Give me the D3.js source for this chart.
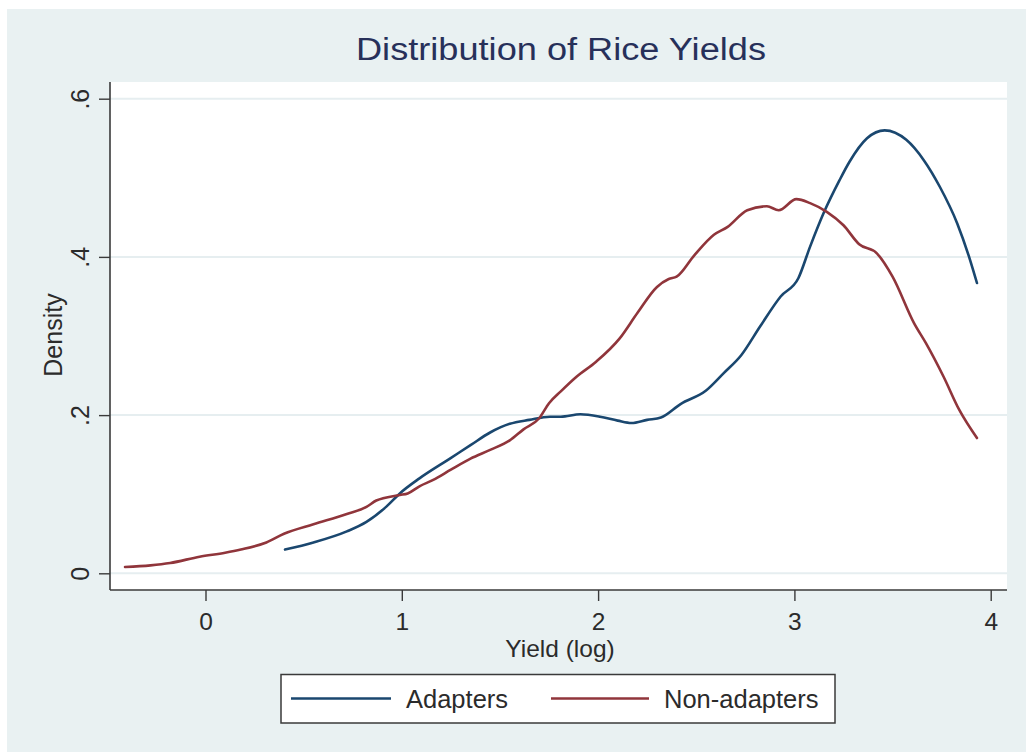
<!DOCTYPE html>
<html>
<head>
<meta charset="utf-8">
<script src="https://cdn.jsdelivr.net/npm/d3@7"></script>
<style>
  html, body { margin: 0; padding: 0; background: #ffffff; }
  svg { display: block; }
  text { font-family: "Liberation Sans", Arial, Helvetica, sans-serif; }
</style>
</head>
<body>
<svg id="chart" width="1026" height="752"></svg>
<script>
// Kernel density of log rice yield, by adoption status
const adaptersYield = [0.405, 0.55, 0.72, 0.82, 0.92, 0.99, 1.09, 1.245, 1.35, 1.45, 1.55, 1.65, 1.755, 1.81, 1.91, 2.01, 2.10, 2.17, 2.25, 2.32, 2.42, 2.55, 2.64, 2.73, 2.825, 2.93, 3.02, 3.08, 3.15, 3.23, 3.28, 3.37, 3.46, 3.57, 3.66, 3.74, 3.83, 3.895, 3.93];
const adaptersDensity = [0.030, 0.039, 0.053, 0.065, 0.084, 0.101, 0.120, 0.145, 0.162, 0.178, 0.189, 0.194, 0.198, 0.198, 0.201, 0.198, 0.193, 0.190, 0.194, 0.197, 0.214, 0.231, 0.253, 0.276, 0.312, 0.350, 0.373, 0.413, 0.456, 0.497, 0.520, 0.550, 0.560, 0.548, 0.522, 0.489, 0.442, 0.396, 0.367];

const nonAdaptersYield = [-0.41, -0.28, -0.18, -0.03, 0.10, 0.18, 0.31, 0.40, 0.55, 0.72, 0.82, 0.87, 0.99, 1.03, 1.09, 1.16, 1.25, 1.35, 1.45, 1.55, 1.62, 1.70, 1.75, 1.81, 1.89, 1.99, 2.11, 2.20, 2.30, 2.36, 2.40, 2.49, 2.59, 2.66, 2.76, 2.86, 2.92, 3.01, 3.08, 3.165, 3.25, 3.33, 3.42, 3.50, 3.61, 3.67, 3.76, 3.84, 3.93];
const nonAdaptersDensity = [0.008, 0.010, 0.013, 0.021, 0.026, 0.030, 0.039, 0.050, 0.062, 0.075, 0.084, 0.092, 0.099, 0.101, 0.110, 0.118, 0.131, 0.145, 0.156, 0.168, 0.182, 0.196, 0.215, 0.230, 0.2485, 0.2675, 0.297, 0.329, 0.362, 0.372, 0.375, 0.402, 0.428, 0.438, 0.459, 0.464, 0.459, 0.473, 0.468, 0.457, 0.440, 0.416, 0.4045, 0.375, 0.316, 0.291, 0.2485, 0.2065, 0.171];

const xTicks = [0, 1, 2, 3, 4];
const xTickLabels = ["0", "1", "2", "3", "4"];
const yTicks = [0, 0.2, 0.4, 0.6];
const yTickLabels = ["0", ".2", ".4", ".6"];

const seriesNames = ["Adapters", "Non-adapters"];
const seriesColors = ["#1a476f", "#90353b"];

const svg = d3.select("#chart");
const W = 1026, H = 752;

// graph region
svg.append("rect").attr("x", 7).attr("y", 9).attr("width", W - 7).attr("height", H - 9)
  .attr("fill", "#e9f1f2");

const plot = { left: 110, right: 1007, top: 82, bottom: 590 };

const x = d3.scaleLinear().domain([-0.4865, 4.083]).range([plot.left, plot.right]);
const y = d3.scaleLinear().domain([-0.0211, 0.6211]).range([plot.bottom, plot.top]);

// plot region
svg.append("rect").attr("x", plot.left).attr("y", plot.top)
  .attr("width", plot.right - plot.left).attr("height", plot.bottom - plot.top)
  .attr("fill", "#ffffff");

// horizontal grid lines
svg.append("g").selectAll("line").data(yTicks).join("line")
  .attr("x1", plot.left).attr("x2", plot.right)
  .attr("y1", d => y(d)).attr("y2", d => y(d))
  .attr("stroke", "#e6eef0").attr("stroke-width", 2);

// density curves
const series = [
  { xs: adaptersYield, ys: adaptersDensity },
  { xs: nonAdaptersYield, ys: nonAdaptersDensity }
];
const line = d3.line().x(d => x(d[0])).y(d => y(d[1])).curve(d3.curveMonotoneX);
series.forEach((s, i) => {
  svg.append("path")
    .datum(s.xs.map((v, j) => [v, s.ys[j]]))
    .attr("d", line)
    .attr("fill", "none")
    .attr("stroke", seriesColors[i])
    .attr("stroke-width", 2.6)
    .attr("stroke-linejoin", "round")
    .attr("stroke-linecap", "round");
});

// axes
const axisColor = "#3a3a3a";
const yAxis = svg.append("g").attr("transform", `translate(${plot.left},0)`)
  .call(d3.axisLeft(y).tickValues(yTicks).tickSize(11).tickPadding(6)
    .tickFormat((d, i) => yTickLabels[i]));
yAxis.select(".domain").attr("d", `M0,${plot.top}V${plot.bottom}`)
  .attr("stroke", axisColor).attr("stroke-width", 1.6);
yAxis.selectAll("line").attr("stroke", axisColor).attr("stroke-width", 1.4);
yAxis.selectAll("text")
  .attr("transform", "rotate(-90)")
  .attr("x", 0).attr("dy", 0)
  .attr("y", -21)
  .attr("text-anchor", "middle")
  .attr("font-size", 25)
  .attr("fill", "#2b2b2b");

const xAxis = svg.append("g").attr("transform", `translate(0,${plot.bottom})`)
  .call(d3.axisBottom(x).tickValues(xTicks).tickSize(11).tickPadding(6)
    .tickFormat((d, i) => xTickLabels[i]));
xAxis.select(".domain").attr("d", `M${plot.left},0H${plot.right}`)
  .attr("stroke", axisColor).attr("stroke-width", 1.6);
xAxis.selectAll("line").attr("stroke", axisColor).attr("stroke-width", 1.4);
xAxis.selectAll("text").attr("dy", 0).attr("y", 39.5)
  .attr("font-size", 24.5).attr("fill", "#2b2b2b");

// axis titles
svg.append("text").attr("x", 560).attr("y", 656.5).attr("text-anchor", "middle")
  .attr("font-size", 24.5).attr("fill", "#2b2b2b").text("Yield (log)");
svg.append("text").attr("transform", "translate(62,335) rotate(-90)")
  .attr("text-anchor", "middle").attr("font-size", 25).attr("fill", "#2b2b2b")
  .text("Density");

// title
svg.append("text").attr("x", 561).attr("y", 59.5).attr("text-anchor", "middle")
  .attr("font-size", 31).attr("fill", "#27305a")
  .attr("textLength", 410).attr("lengthAdjust", "spacingAndGlyphs")
  .text("Distribution of Rice Yields");

// legend
const legend = svg.append("g");
legend.append("rect").attr("x", 281).attr("y", 674.5).attr("width", 554).attr("height", 48.5)
  .attr("fill", "#ffffff").attr("stroke", "#3a3a3a").attr("stroke-width", 1.5);
const legendItems = [
  { x0: 291, x1: 391, tx: 406 },
  { x0: 551, x1: 649, tx: 664 }
];
legendItems.forEach((it, i) => {
  legend.append("line").attr("x1", it.x0).attr("x2", it.x1).attr("y1", 698.5).attr("y2", 698.5)
    .attr("stroke", seriesColors[i]).attr("stroke-width", 2.6);
  legend.append("text").attr("x", it.tx).attr("y", 707.5)
    .attr("font-size", 25.5).attr("fill", "#2b2b2b").text(seriesNames[i]);
});
</script>
</body>
</html>
